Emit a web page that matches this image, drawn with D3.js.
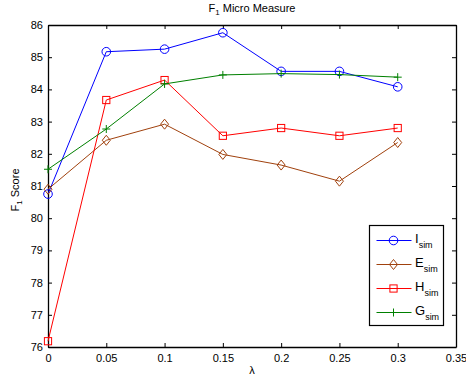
<!DOCTYPE html>
<html>
<head>
<meta charset="utf-8">
<script src="https://cdn.jsdelivr.net/npm/d3@7"></script>
<style>
  body { margin: 0; background: #fff; }
  svg { font-family: "Liberation Sans", Arial, sans-serif; }
</style>
</head>
<body>
<div id="chart"></div>
<script>
const lambdas = [0, 0.05, 0.1, 0.15, 0.2, 0.25, 0.3];
const iSim = [80.75, 85.17, 85.25, 85.76, 84.56, 84.56, 84.08];
const eSim = [80.9, 82.42, 82.92, 81.98, 81.65, 81.15, 82.35];
const hSim = [76.18, 83.67, 84.29, 82.56, 82.8, 82.56, 82.8];
const gSim = [81.52, 82.77, 84.17, 84.45, 84.49, 84.46, 84.38];
const xTicks = [0, 0.05, 0.1, 0.15, 0.2, 0.25, 0.3, 0.35];
const yTicks = [76, 77, 78, 79, 80, 81, 82, 83, 84, 85, 86];

const series = [
  { name: "I", values: iSim, color: "#0000ff", marker: "circle" },
  { name: "E", values: eSim, color: "#a0410d", marker: "diamond" },
  { name: "H", values: hSim, color: "#ff0000", marker: "square" },
  { name: "G", values: gSim, color: "#008000", marker: "plus" },
];

const width = 466, height = 379;
const margin = { top: 25, right: 10, bottom: 32, left: 48 };

const svg = d3.select("#chart").append("svg")
  .attr("width", width).attr("height", height);

const x = d3.scaleLinear().domain([0, 0.35]).range([margin.left, width - margin.right]);
const y = d3.scaleLinear().domain([76, 86]).range([height - margin.bottom, margin.top]);

// ticks pointing inward on all four sides
const tickLen = 4;
const fmt = d3.format("");
svg.append("g")
  .attr("transform", `translate(0,${y.range()[0]})`)
  .call(d3.axisBottom(x).tickValues(xTicks).tickFormat(fmt).tickSizeInner(-tickLen).tickSizeOuter(0).tickPadding(7));
svg.append("g")
  .attr("transform", `translate(0,${y.range()[1]})`)
  .call(d3.axisTop(x).tickValues(xTicks).tickFormat("").tickSizeInner(-tickLen).tickSizeOuter(0));
svg.append("g")
  .attr("transform", `translate(${x.range()[0]},0)`)
  .call(d3.axisLeft(y).tickValues(yTicks).tickFormat(fmt).tickSizeInner(-tickLen).tickSizeOuter(0).tickPadding(5));
svg.append("g")
  .attr("transform", `translate(${x.range()[1]},0)`)
  .call(d3.axisRight(y).tickValues(yTicks).tickFormat("").tickSizeInner(-tickLen).tickSizeOuter(0));

svg.selectAll(".domain").attr("stroke", "#000").attr("stroke-width", 1.3);
svg.selectAll(".tick line").attr("stroke", "#000");
svg.selectAll(".tick text").attr("font-size", 11).attr("fill", "#000")
  .attr("font-family", "Liberation Sans, Arial, sans-serif");

function drawMarker(g, type, color) {
  if (type === "circle") {
    g.append("circle").attr("r", 4.3).attr("fill", "none").attr("stroke", color);
  } else if (type === "diamond") {
    g.append("path").attr("d", "M0,-5L4,0L0,5L-4,0Z").attr("fill", "none").attr("stroke", color);
  } else if (type === "square") {
    g.append("rect").attr("x", -3.6).attr("y", -3.6).attr("width", 7.2).attr("height", 7.2)
      .attr("fill", "none").attr("stroke", color);
  } else {
    g.append("path").attr("d", "M-4,0H4M0,-4V4").attr("stroke", color);
  }
}

const line = d3.line().x((d, i) => x(lambdas[i])).y(d => y(d));

series.forEach(s => {
  svg.append("path").datum(s.values)
    .attr("d", line).attr("fill", "none").attr("stroke", s.color).attr("stroke-width", 1);
  s.values.forEach((v, i) => {
    const g = svg.append("g").attr("transform", `translate(${x(lambdas[i])},${y(v)})`);
    drawMarker(g, s.marker, s.color);
  });
});

// legend
const leg = svg.append("g");
leg.append("rect").attr("x", 369.5).attr("y", 225.5).attr("width", 74).attr("height", 100)
  .attr("fill", "#fff").attr("stroke", "#000").attr("stroke-width", 1.2);
series.forEach((s, i) => {
  const ly = 240.5 + i * 24;
  leg.append("line").attr("x1", 376.5).attr("x2", 411.5).attr("y1", ly).attr("y2", ly)
    .attr("stroke", s.color);
  const g = leg.append("g").attr("transform", `translate(393.5,${ly})`);
  drawMarker(g, s.marker, s.color);
  const t = leg.append("text").attr("x", 415).attr("y", ly + 2).attr("font-size", 13).attr("fill", "#000");
  t.append("tspan").text(s.name);
  t.append("tspan").attr("font-size", 9).attr("dy", 5).text("sim");
});

// title
const title = svg.append("text").attr("x", 252).attr("y", 12).attr("text-anchor", "middle")
  .attr("font-size", 11).attr("fill", "#000");
title.append("tspan").text("F");
title.append("tspan").attr("font-size", 8).attr("dy", 3).text("1");
title.append("tspan").attr("dy", -3).text(" Micro Measure");

// axis labels
svg.append("text").attr("x", 252).attr("y", 374).attr("text-anchor", "middle")
  .attr("font-size", 11).attr("fill", "#000").text("λ");
const yl = svg.append("text").attr("transform", "translate(19,190) rotate(-90)")
  .attr("text-anchor", "middle").attr("font-size", 11).attr("fill", "#000");
yl.append("tspan").text("F");
yl.append("tspan").attr("font-size", 8).attr("dy", 3).text("1");
yl.append("tspan").attr("dy", -3).text(" Score");
</script>
</body>
</html>
